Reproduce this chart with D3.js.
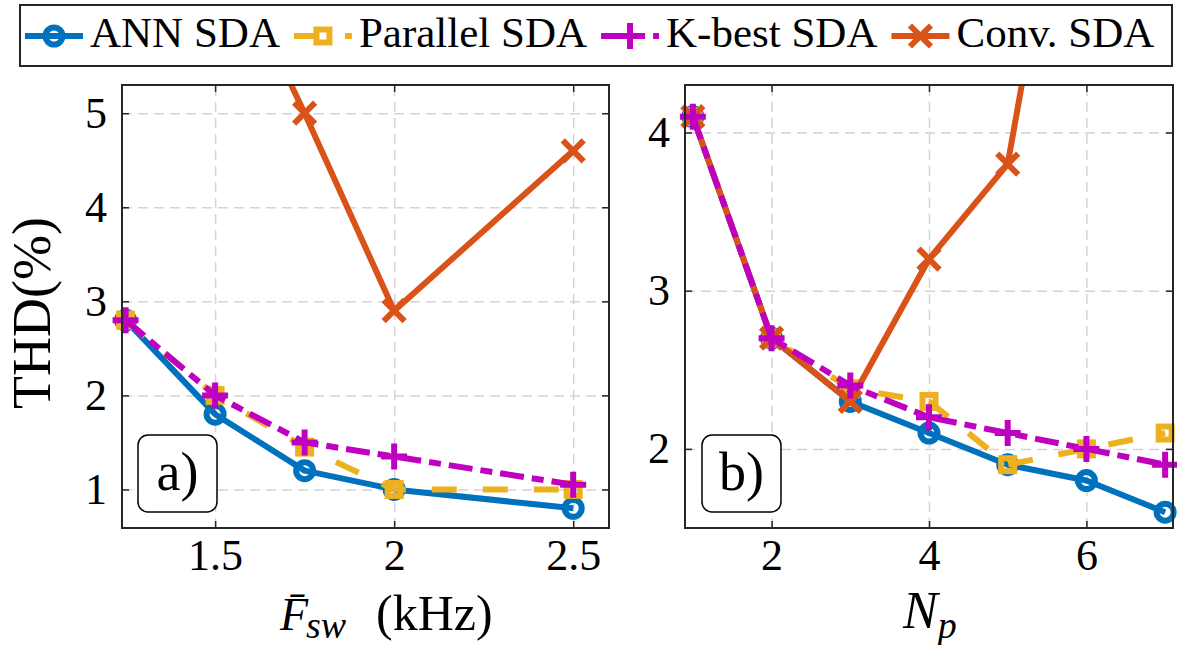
<!DOCTYPE html>
<html lang="en">
<head>
<meta charset="UTF-8">
<title>THD comparison</title>
<script src="https://cdn.jsdelivr.net/npm/d3@7"></script>
<style>
  body { margin: 0; background: #fff; }
  svg text { font-family: "Liberation Serif", "Times New Roman", serif; fill: #000; }
  .grid line { stroke: #d4d4d4; stroke-width: 1.5; stroke-dasharray: 10,6; }
  .grid .domain { display: none; }
  .ax .domain { display: none; }
  .ax line { stroke: #262626; stroke-width: 1.5; }
</style>
</head>
<body>
<svg id="chart" width="1177" height="645"></svg>
<script>
// legend order
const seriesNames = ["ANN SDA", "Parallel SDA", "K-best SDA", "Conv. SDA"];

// panel a) : average switching frequency (kHz)
const fswValues   = [1.25, 1.5, 1.75, 2, 2.5];
const annFsw      = [2.8, 1.8, 1.2, 1.0, 0.8];
const parallelFsw = [2.8, 2.0, 1.45, 1.0, 1.0];
const kbestFsw    = [2.8, 2.0, 1.5, 1.35, 1.05];
const convFsw     = [8.6, 7.0, 5.0, 2.9, 4.6];
const fswTicks    = [1.5, 2, 2.5];
const thdTicksA   = [1, 2, 3, 4, 5];

// panel b) : N_p
const npValues   = [1, 2, 3, 4, 5, 6, 7];
const annNp      = [4.1, 2.7, 2.3, 2.1, 1.9, 1.8, 1.6];
const parallelNp = [4.1, 2.7, 2.38, 2.3, 1.9, 2.0, 2.1];
const kbestNp    = [4.1, 2.7, 2.4, 2.2, 2.1, 2.0, 1.9];
const convNp     = [4.1, 2.7, 2.3, 3.2, 3.8, 6.6, 9.0];
const npTicks    = [2, 4, 6];
const thdTicksB  = [2, 3, 4];

const styles = {
  "ANN SDA":      { color: "#0072bd", dash: null,          marker: "circle" },
  "Parallel SDA": { color: "#edb120", dash: "25,26",       marker: "square" },
  "K-best SDA":   { color: "#c000c0", dash: "24,8,12,8",   marker: "plus" },
  "Conv. SDA":    { color: "#d95319", dash: null,          marker: "cross" }
};
// matlab draw order
const drawOrder = ["ANN SDA", "Parallel SDA", "Conv. SDA", "K-best SDA"];
const LW = 6;

const svg = d3.select("#chart");

function drawMarker(g, type, color) {
  if (type === "circle") {
    g.append("circle").attr("r", 8.5).attr("fill", "none")
      .attr("stroke", color).attr("stroke-width", LW);
  } else if (type === "square") {
    g.append("rect").attr("x", -6.5).attr("y", -6.5).attr("width", 13).attr("height", 13)
      .attr("fill", "none").attr("stroke", color).attr("stroke-width", LW);
  } else if (type === "plus") {
    g.append("path").attr("d", "M-13,0H13M0,-13V13")
      .attr("stroke", color).attr("stroke-width", LW).attr("fill", "none");
  } else {
    g.append("path").attr("d", "M-10.5,-10.5L10.5,10.5M-10.5,10.5L10.5,-10.5")
      .attr("stroke", color).attr("stroke-width", LW).attr("fill", "none");
  }
}

function panel(cfg) {
  const x = d3.scaleLinear().domain(cfg.xDomain).range([cfg.left, cfg.right]);
  const y = d3.scaleLinear().domain(cfg.yDomain).range([cfg.bottom, cfg.top]);
  const w = cfg.right - cfg.left, h = cfg.bottom - cfg.top;
  const fmt = d => String(d);

  // grid
  svg.append("g").attr("class", "grid")
    .attr("transform", `translate(0,${cfg.bottom})`)
    .call(d3.axisBottom(x).tickValues(cfg.xTicks).tickSize(-h).tickFormat(""));
  svg.append("g").attr("class", "grid")
    .attr("transform", `translate(${cfg.left},0)`)
    .call(d3.axisLeft(y).tickValues(cfg.yTicks).tickSize(-w).tickFormat(""));

  const clipId = "clip" + cfg.id;
  svg.append("clipPath").attr("id", clipId)
    .append("rect").attr("x", cfg.left).attr("y", cfg.top).attr("width", w).attr("height", h);

  const line = d3.line().x(d => x(d[0])).y(d => y(d[1]));

  drawOrder.forEach(name => {
    const st = styles[name];
    const pts = cfg.xs.map((v, i) => [v, cfg.series[name][i]]);
    svg.append("path")
      .attr("clip-path", `url(#${clipId})`)
      .attr("d", line(pts))
      .attr("fill", "none")
      .attr("stroke", st.color)
      .attr("stroke-width", LW)
      .attr("stroke-dasharray", st.dash)
      .attr("stroke-linejoin", "round");
    pts.filter(p => p[1] <= cfg.yDomain[1] && p[1] >= cfg.yDomain[0])
      .forEach(p => {
        const g = svg.append("g").attr("transform", `translate(${x(p[0])},${y(p[1])})`);
        drawMarker(g, st.marker, st.color);
      });
  });

  // axes, ticks pointing in on all four sides
  const bottom = svg.append("g").attr("class", "ax")
    .attr("transform", `translate(0,${cfg.bottom})`)
    .call(d3.axisBottom(x).tickValues(cfg.xTicks).tickFormat(fmt).tickSize(-7).tickPadding(11));
  const left = svg.append("g").attr("class", "ax")
    .attr("transform", `translate(${cfg.left},0)`)
    .call(d3.axisLeft(y).tickValues(cfg.yTicks).tickFormat(fmt).tickSize(-7).tickPadding(15));
  svg.append("g").attr("class", "ax")
    .attr("transform", `translate(0,${cfg.top})`)
    .call(d3.axisTop(x).tickValues(cfg.xTicks).tickSize(-7).tickFormat(""));
  svg.append("g").attr("class", "ax")
    .attr("transform", `translate(${cfg.right},0)`)
    .call(d3.axisRight(y).tickValues(cfg.yTicks).tickSize(-7).tickFormat(""));
  [bottom, left].forEach(a => a.attr("font-family", null).attr("font-size", null)
    .selectAll("text").style("font-size", "44px").attr("fill", "#262626"));

  svg.append("rect")
    .attr("x", cfg.left).attr("y", cfg.top).attr("width", w).attr("height", h)
    .attr("fill", "none").attr("stroke", "#262626").attr("stroke-width", 2);

  // panel tag
  const tag = svg.append("g").attr("transform", `translate(${cfg.tagX},435)`);
  tag.append("rect").attr("width", 79).attr("height", 77).attr("rx", 10)
    .attr("fill", "#fff").attr("stroke", "#000").attr("stroke-width", 1.5);
  tag.append("text").attr("x", 39.5).attr("y", 55).attr("text-anchor", "middle")
    .style("font-size", "54px").text(cfg.tag);
}

panel({
  id: "a", left: 122, right: 609, top: 85, bottom: 528,
  xDomain: [1.24, 2.6], yDomain: [0.59, 5.3],
  xTicks: fswTicks, yTicks: thdTicksA, xs: fswValues,
  series: { "ANN SDA": annFsw, "Parallel SDA": parallelFsw, "K-best SDA": kbestFsw, "Conv. SDA": convFsw },
  tag: "a)", tagX: 138
});
panel({
  id: "b", left: 685, right: 1173, top: 85, bottom: 528,
  xDomain: [0.9, 7.1], yDomain: [1.5, 4.3],
  xTicks: npTicks, yTicks: thdTicksB, xs: npValues,
  series: { "ANN SDA": annNp, "Parallel SDA": parallelNp, "K-best SDA": kbestNp, "Conv. SDA": convNp },
  tag: "b)", tagX: 702
});

// y label
svg.append("text")
  .attr("transform", "translate(50,313) rotate(-90)")
  .attr("text-anchor", "middle")
  .style("font-size", "54px")
  .text("THD(%)");

// x label a)
const xa = svg.append("text").attr("y", 630).style("font-size", "46px");
xa.append("tspan").attr("x", 280).style("font-style", "italic").text("F\u0304");
xa.append("tspan").attr("x", 306).attr("dy", 8).style("font-style", "italic").style("font-size", "38px").text("sw");
xa.append("tspan").attr("x", 376).attr("dy", -8).style("font-size", "50px").text("(kHz)");

// x label b)
const xb = svg.append("text").attr("y", 628).style("font-size", "52px");
xb.append("tspan").attr("x", 903).style("font-style", "italic").text("N");
xb.append("tspan").attr("dy", 10).style("font-style", "italic").style("font-size", "38px").text("p");

// legend
const legend = svg.append("g");
legend.append("rect")
  .attr("x", 20).attr("y", 5).attr("width", 1152).attr("height", 61)
  .attr("fill", "#fff").attr("stroke", "#262626").attr("stroke-width", 2);
let lx = 25;
seriesNames.forEach(name => {
  const st = styles[name];
  legend.append("path")
    .attr("d", `M${lx},36H${lx + 58}`)
    .attr("stroke", st.color).attr("stroke-width", LW)
    .attr("stroke-dasharray", st.dash).attr("fill", "none");
  drawMarker(legend.append("g").attr("transform", `translate(${lx + 29},36)`), st.marker, st.color);
  const t = legend.append("text").attr("x", lx + 65).attr("y", 47)
    .style("font-size", "43px").text(name);
  lx = lx + 65 + t.node().getComputedTextLength() + 14;
});
</script>
</body>
</html>
